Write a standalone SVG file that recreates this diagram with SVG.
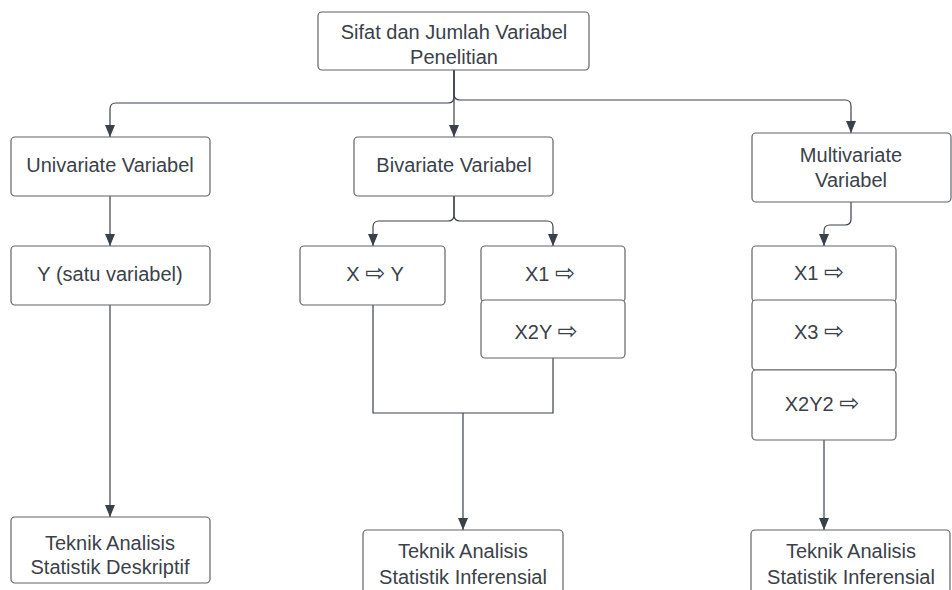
<svg xmlns="http://www.w3.org/2000/svg" width="952" height="590" viewBox="0 0 952 590">
  <defs>
    <marker id="arrow" viewBox="0 0 12 10" refX="12" refY="5" markerWidth="12" markerHeight="10" orient="auto" markerUnits="userSpaceOnUse">
      <path d="M0,0 L12,5 L0,10 Z" fill="#3a414a"/>
    </marker>
    <style>
      .box { fill: #ffffff; stroke: #5f6368; stroke-width: 1.2; }
      .lbl { font-family: "Liberation Sans", Arial, sans-serif; font-size: 20px; fill: #3a414a; text-anchor: middle; }
      .sym { font-family: "DejaVu Sans", sans-serif; font-size: 24px; }
      .wire { fill: none; stroke: #3a414a; stroke-width: 1.2; }
      .wire-in { fill: none; stroke: #3a414a; stroke-width: 1.2; marker-end: url(#arrow); }
    </style>
  </defs>
  <rect width="952" height="590" fill="#ffffff"/>

  <g id="connectors">
    <!-- root to the three categories -->
    <path class="wire-in" d="M454,70 V137"/>
    <path class="wire-in" d="M454,70 V97 Q454,103 448,103 H116 Q110,103 110,109 V137"/>
    <path class="wire-in" d="M454,70 V94 Q454,100 460,100 H845 Q851,100 851,106 V133"/>
    <!-- univariate chain -->
    <path class="wire-in" d="M110,196 V246"/>
    <path class="wire-in" d="M110,305 V517"/>
    <!-- bivariate split -->
    <path class="wire-in" d="M454,196 V215 Q454,221 448,221 H379 Q373,221 373,227 V246"/>
    <path class="wire-in" d="M454,196 V215 Q454,221 460,221 H547 Q553,221 553,227 V246"/>
    <!-- bivariate merge -->
    <path class="wire" d="M373,305 V413 H553 V358"/>
    <path class="wire-in" d="M463,413 V530"/>
    <!-- multivariate chain -->
    <path class="wire-in" d="M851,202 V219 Q851,225 845,225 H830 Q824,225 824,231 V246"/>
    <path class="wire-in" d="M824,440 V530"/>
  </g>

  <g id="root">
    <rect class="box" x="318" y="12" width="271" height="58" rx="4"/>
    <text class="lbl" x="454" y="39">Sifat dan Jumlah Variabel</text>
    <text class="lbl" x="454" y="64">Penelitian</text>
  </g>

  <g id="univariate">
    <rect class="box" x="11" y="137" width="199" height="59" rx="4"/>
    <text class="lbl" x="110" y="172">Univariate Variabel</text>
  </g>

  <g id="bivariate">
    <rect class="box" x="354" y="137" width="199" height="59" rx="4"/>
    <text class="lbl" x="454" y="172">Bivariate Variabel</text>
  </g>

  <g id="multivariate">
    <rect class="box" x="752" y="133" width="199" height="69" rx="4"/>
    <text class="lbl" x="851" y="162">Multivariate</text>
    <text class="lbl" x="851" y="187">Variabel</text>
  </g>

  <g id="y-satu">
    <rect class="box" x="11" y="246" width="199" height="59" rx="4"/>
    <text class="lbl" x="110" y="281">Y (satu variabel)</text>
  </g>

  <g id="x-to-y">
    <rect class="box" x="300" y="246" width="145" height="59" rx="4"/>
    <text class="lbl" x="375" y="281">X <tspan class="sym">⇨</tspan> Y</text>
  </g>

  <g id="bi-x1">
    <rect class="box" x="481" y="246" width="144" height="56" rx="4"/>
    <text class="lbl" x="550" y="281">X1 <tspan class="sym">⇨</tspan></text>
  </g>

  <g id="bi-x2y">
    <rect class="box" x="481" y="300" width="144" height="58" rx="4"/>
    <text class="lbl" x="546" y="339">X2Y <tspan class="sym">⇨</tspan></text>
  </g>

  <g id="multi-x1">
    <rect class="box" x="752" y="246" width="144" height="56" rx="4"/>
    <text class="lbl" x="819" y="280">X1 <tspan class="sym">⇨</tspan></text>
  </g>

  <g id="multi-x3">
    <rect class="box" x="752" y="300" width="144" height="70" rx="4"/>
    <text class="lbl" x="819" y="339">X3 <tspan class="sym">⇨</tspan></text>
  </g>

  <g id="multi-x2y2">
    <rect class="box" x="752" y="370" width="144" height="70" rx="4"/>
    <text class="lbl" x="822" y="411">X2Y2 <tspan class="sym">⇨</tspan></text>
  </g>

  <g id="deskriptif">
    <rect class="box" x="11" y="517" width="199" height="66" rx="4"/>
    <text class="lbl" x="110" y="550">Teknik Analisis</text>
    <text class="lbl" x="110" y="574">Statistik Deskriptif</text>
  </g>

  <g id="inferensial-bi">
    <rect class="box" x="363" y="530" width="200" height="66" rx="4"/>
    <text class="lbl" x="463" y="558">Teknik Analisis</text>
    <text class="lbl" x="463" y="584">Statistik Inferensial</text>
  </g>

  <g id="inferensial-multi">
    <rect class="box" x="751" y="530" width="199" height="66" rx="4"/>
    <text class="lbl" x="851" y="558">Teknik Analisis</text>
    <text class="lbl" x="851" y="584">Statistik Inferensial</text>
  </g>
</svg>
